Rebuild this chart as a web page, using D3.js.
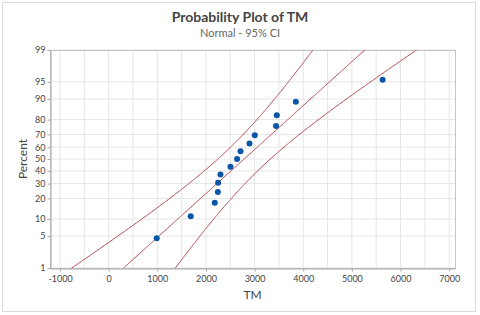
<!DOCTYPE html>
<html>
<head>
<meta charset="utf-8">
<script src="https://cdn.jsdelivr.net/npm/d3@7"></script>
<style>
  body { margin: 0; background: #fff; }
  text { font-family: Lato, "Open Sans", sans-serif; fill: #444; }
</style>
</head>
<body>
<div id="chart"></div>
<script>
// values
const tmValues = [988, 1687, 2181, 2245, 2250, 2298, 2504, 2640, 2710, 2895, 3004, 3442, 3457, 3848, 5632];
const xTicks = [-1000, 0, 1000, 2000, 3000, 4000, 5000, 6000, 7000];
const xGrid = d3.range(-1000, 7001, 500);
const pctTicks = [1, 5, 10, 20, 30, 40, 50, 60, 70, 80, 90, 95, 99];

const W = 480, H = 315;
const margin = { top: 50, right: 25, bottom: 47, left: 50 };

// inverse normal cdf (Acklam)
function qnorm(p) {
  const a = [-3.969683028665376e+01, 2.209460984245205e+02, -2.759285104469687e+02, 1.383577518672690e+02, -3.066479806614716e+01, 2.506628277459239e+00];
  const b = [-5.447609879822406e+01, 1.615858368580409e+02, -1.556989798598866e+02, 6.680131188771972e+01, -1.328068155288572e+01];
  const c = [-7.784894002430293e-03, -3.223964580411365e-01, -2.400758277161838e+00, -2.549732539343734e+00, 4.374664141464968e+00, 2.938163982698783e+00];
  const d = [7.784695709041462e-03, 3.224671290700398e-01, 2.445134137142996e+00, 3.754408661907416e+00];
  const pl = 0.02425;
  let q, r;
  if (p < pl) {
    q = Math.sqrt(-2 * Math.log(p));
    return (((((c[0]*q+c[1])*q+c[2])*q+c[3])*q+c[4])*q+c[5]) / ((((d[0]*q+d[1])*q+d[2])*q+d[3])*q+1);
  }
  if (p > 1 - pl) {
    q = Math.sqrt(-2 * Math.log(1 - p));
    return -(((((c[0]*q+c[1])*q+c[2])*q+c[3])*q+c[4])*q+c[5]) / ((((d[0]*q+d[1])*q+d[2])*q+d[3])*q+1);
  }
  q = p - 0.5; r = q * q;
  return (((((a[0]*r+a[1])*r+a[2])*r+a[3])*r+a[4])*r+a[5])*q / (((((b[0]*r+b[1])*r+b[2])*r+b[3])*r+b[4])*r+1);
}

const svg = d3.select('#chart').append('svg')
  .attr('width', W)
  .attr('height', H);

// outer frame
svg.append('rect')
  .attr('x', 2.5).attr('y', 2.5)
  .attr('width', 473).attr('height', 309)
  .attr('fill', '#fff')
  .attr('stroke', '#dcdcdc');

const x = d3.scaleLinear()
  .domain([-1206, 7120])
  .range([margin.left, W - margin.right]);

const zMax = qnorm(0.99);
const y = d3.scaleLinear()
  .domain([-zMax, zMax])
  .range([H - margin.bottom, margin.top]);
const yp = p => y(qnorm(p / 100));

const x0 = margin.left, x1 = W - margin.right;
const y0 = margin.top, y1 = H - margin.bottom;

// grid
svg.append('g').selectAll('line')
  .data(xGrid)
  .enter().append('line')
  .attr('x1', d => x(d)).attr('x2', d => x(d))
  .attr('y1', y0).attr('y2', y1)
  .attr('stroke', '#e6e6e6');

svg.append('g').selectAll('line')
  .data(pctTicks)
  .enter().append('line')
  .attr('x1', x0).attr('x2', x1)
  .attr('y1', d => yp(d)).attr('y2', d => yp(d))
  .attr('stroke', '#e6e6e6');

// plot border
svg.append('rect')
  .attr('x', x0 + 0.5).attr('y', y0 + 0.5)
  .attr('width', x1 - x0).attr('height', y1 - y0)
  .attr('fill', 'none')
  .attr('stroke', '#c4c4c4');

// axes
const xAxis = svg.append('g')
  .attr('transform', `translate(0,${y1 + 0.5})`)
  .call(d3.axisBottom(x).tickValues(xTicks).tickFormat(d => String(d))
    .tickSize(3).tickSizeOuter(0).tickPadding(4));
const yAxis = svg.append('g')
  .attr('transform', `translate(${x0 + 0.5},0)`)
  .call(d3.axisLeft(y).tickValues(pctTicks.map(p => qnorm(p / 100)))
    .tickFormat((d, i) => pctTicks[i]).tickSize(3).tickSizeOuter(0).tickPadding(2));
[xAxis, yAxis].forEach(a => {
  a.select('.domain').attr('stroke', '#aaa');
  a.selectAll('.tick line').attr('stroke', '#aaa');
  a.selectAll('.tick text').attr('fill', '#444').style('font-size', '9px');
});

// fit line and 95% CI bands
const n = tmValues.length;
const mu = d3.mean(tmValues);
const sd = d3.deviation(tmValues);
const zs = d3.range(-zMax - 0.3, zMax + 0.3001, 0.02);
const half = z => 1.96 * sd * Math.sqrt(1 / n + z * z / (2 * (n - 1)));
const bands = [
  z => mu + z * sd - half(z),
  z => mu + z * sd,
  z => mu + z * sd + half(z)
];

svg.append('clipPath').attr('id', 'clip')
  .append('rect')
  .attr('x', x0).attr('y', y0)
  .attr('width', x1 - x0).attr('height', y1 - y0);

const line = f => d3.line()
  .x(z => x(f(z)))
  .y(z => y(z))(zs);

svg.append('g')
  .attr('clip-path', 'url(#clip)')
  .selectAll('path')
  .data(bands)
  .enter().append('path')
  .attr('d', line)
  .attr('fill', 'none')
  .attr('stroke', '#b24a4a')
  .attr('stroke-width', 1);

// points at median ranks
const sorted = tmValues.slice().sort(d3.ascending);
svg.append('g').selectAll('circle')
  .data(sorted)
  .enter().append('circle')
  .attr('cx', d => x(d))
  .attr('cy', (d, i) => y(qnorm((i + 1 - 0.3) / (n + 0.4))))
  .attr('r', 3)
  .attr('fill', '#0b55a6');

// titles
svg.append('text')
  .attr('x', 240).attr('y', 22)
  .attr('text-anchor', 'middle')
  .style('font-size', '14px')
  .style('font-weight', 'bold')
  .text('Probability Plot of TM');
svg.append('text')
  .attr('x', 240).attr('y', 37)
  .attr('text-anchor', 'middle')
  .style('font-size', '11px')
  .style('fill', '#666')
  .text('Normal - 95% CI');

svg.append('text')
  .attr('transform', `translate(27,${(y0 + y1) / 2}) rotate(-90)`)
  .attr('text-anchor', 'middle')
  .style('font-size', '12px')
  .text('Percent');
svg.append('text')
  .attr('x', (x0 + x1) / 2).attr('y', 299)
  .attr('text-anchor', 'middle')
  .style('font-size', '12px')
  .text('TM');
</script>
</body>
</html>
